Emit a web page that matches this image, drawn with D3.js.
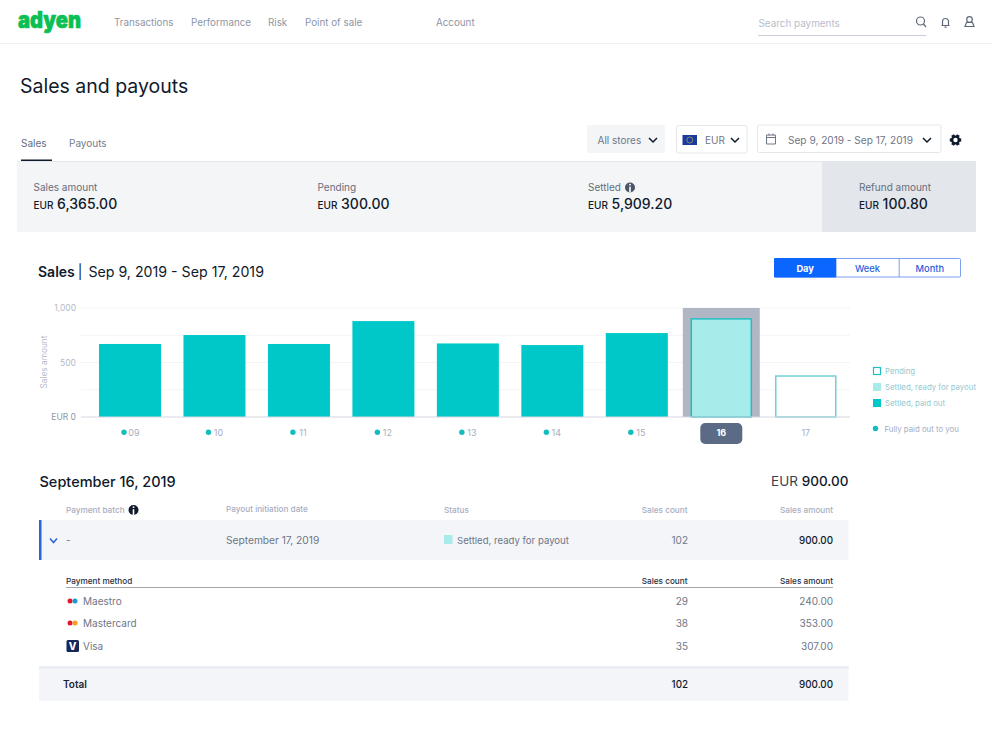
<!DOCTYPE html>
<html>
<head>
<meta charset="utf-8">
<script src="https://cdn.jsdelivr.net/npm/d3@7"></script>
<style>
    html, body { margin: 0; background: #fff; }
    svg { display: block; }
    text { font-family: Inter, "Noto Sans", sans-serif; }
</style>
</head>
<body>
<svg id="page" width="992" height="741"></svg>
<script>
// Chart data
const days = ["09", "10", "11", "12", "13", "14", "15", "16", "17"]
const salesAmounts = [670, 752, 670, 880, 675, 660, 770, 900, 376]
const statuses = ["paid", "paid", "paid", "paid", "paid", "paid", "paid", "ready", "pending"]
const fullyPaid = [true, true, true, true, true, true, true, false, false]
const selectedDay = "16"
const yLabelTicks = [0, 500, 1000]
const yGridTicks = [250, 500, 750, 1000]
const legendLabels = ["Pending", "Settled, ready for payout", "Settled, paid out"]
const legendStatuses = ["pending", "ready", "paid"]

// Page text
const navItems = ["Transactions", "Performance", "Risk", "Point of sale", "Account"]
const navX = [114, 191, 268, 305, 436]
const summaryLabels = ["Sales amount", "Pending", "Settled", "Refund amount"]
const summaryValues = ["6,365.00", "300.00", "5,909.20", "100.80"]
const summaryX = [33.5, 317.5, 588, 859]
const rangeLabels = ["Day", "Week", "Month"]
const methodNames = ["Maestro", "Mastercard", "Visa"]
const methodCounts = ["29", "38", "35"]
const methodAmounts = ["240.00", "353.00", "307.00"]
const methodY = [601, 623, 646]

const teal = "#00c8c8"
const tealLight = "#a8ebeb"
const tealBorder = "#22bfc2"
const blue = "#0a66ff"
const grey = "#6f7685"
const greyLight = "#a7aebf"
const ink = "#0f1a2b"

const svg = d3.select("#page")

function label (x, y, str, size, fill, opts = {}) {
    return svg.append("text")
        .attr("x", x)
        .attr("y", y)
        .attr("font-size", size)
        .attr("fill", fill)
        .attr("font-weight", opts.weight || 400)
        .attr("text-anchor", opts.anchor || "start")
        .text(str)
}

function box (x, y, w, h, fill, opts = {}) {
    return svg.append("rect")
        .attr("x", x)
        .attr("y", y)
        .attr("width", w)
        .attr("height", h)
        .attr("fill", fill)
        .attr("stroke", opts.stroke || "none")
        .attr("rx", opts.rx || 0)
}

function chevron (x, y, color = ink, w = 4) {
    svg.append("path")
        .attr("d", d3.line()([[x - w, y - 2], [x, y + 2], [x + w, y - 2]]))
        .attr("fill", "none")
        .attr("stroke", color)
        .attr("stroke-width", 1.5)
}

function infoIcon (x, y, r, fill) {
    svg.append("circle").attr("cx", x).attr("cy", y).attr("r", r).attr("fill", fill)
    box(x - 0.8, y - 0.8, 1.6, r + 0.8, "#fff")
    box(x - 0.8, y - r + 1.4, 1.6, 1.6, "#fff")
}

// Header
box(0, 43, 992, 1, "#f0f1f3")
label(18, 28, "adyen", 23, "#0abf53", {weight: 900})
    .attr("textLength", 63)
    .attr("lengthAdjust", "spacingAndGlyphs")
    .attr("stroke", "#0abf53")
    .attr("stroke-width", 0.7)
navItems.forEach((d, i) => label(navX[i], 26, d, 9.8, "#8e96a5"))
label(758.5, 27, "Search payments", 9.9, "#b7bdca")
box(758, 35, 168, 1, "#c9ced8")

const iconStroke = "#5f6878"
svg.append("circle").attr("cx", 920.5).attr("cy", 21).attr("r", 4).attr("fill", "none").attr("stroke", iconStroke).attr("stroke-width", 1.2)
svg.append("path").attr("d", "M923.5 24L926 27").attr("stroke", iconStroke).attr("stroke-width", 1.2)
svg.append("path").attr("d", "M941.5 25.5h8M942.5 25.5v-4a3 3 0 0 1 6 0v4M944.5 27.2h2").attr("fill", "none").attr("stroke", iconStroke).attr("stroke-width", 1.2)
svg.append("circle").attr("cx", 969.5).attr("cy", 19.5).attr("r", 2.8).attr("fill", "none").attr("stroke", iconStroke).attr("stroke-width", 1.2)
svg.append("path").attr("d", "M965 26.5l1.5-4h6l1.5 4z").attr("fill", "none").attr("stroke", iconStroke).attr("stroke-width", 1.2)

// Title and tabs
label(20, 93, "Sales and payouts", 19.5, ink)
label(21, 147, "Sales", 10, "#666e7c")
label(69, 147, "Payouts", 10, "#757d8c")
box(21, 159.5, 31, 1.5, ink)

// Filters
box(587, 125, 78, 28, "#f3f5f7", {rx: 2})
label(597.5, 143.5, "All stores", 10, "#6f7685")
chevron(653, 140)
box(676.5, 125.5, 70.5, 27.5, "#fff", {stroke: "#e3e6ea", rx: 2})
box(682.5, 135, 14.5, 10, "#1a3a9c")
svg.append("circle").attr("cx", 689.8).attr("cy", 140).attr("r", 3).attr("fill", "none").attr("stroke", "#c7bd5a").attr("stroke-width", 0.6)
label(705, 143.5, "EUR", 10, "#6f7685")
chevron(735, 140)
box(757.5, 125, 183.5, 27.5, "#fff", {stroke: "#e3e6ea", rx: 2})
svg.append("path").attr("d", "M766.5 135h9v9h-9zM766.5 137.5h9M769 133.5v2M773 133.5v2").attr("fill", "none").attr("stroke", "#6f7685").attr("stroke-width", 1)
label(788, 144, "Sep 9, 2019 - Sep 17, 2019", 10.1, "#6f7685")
chevron(927, 140)

// settings gear
svg.append("circle").attr("cx", 955.5).attr("cy", 140).attr("r", 3.4).attr("fill", "none").attr("stroke", ink).attr("stroke-width", 2.4)
d3.range(6).forEach(i => {
    const a = i * Math.PI / 3 + Math.PI / 6
    svg.append("rect")
        .attr("x", 953.9)
        .attr("y", 134.3)
        .attr("width", 3.2)
        .attr("height", 2.4)
        .attr("fill", ink)
        .attr("transform", `rotate(${a * 180 / Math.PI} 955.5 140)`)
})

// Summary band
box(17, 161, 959, 1.5, "#e3e6ea")
box(17, 162, 959, 70, "#f3f5f7")
box(822, 162, 154, 70, "#e3e6ea")
summaryLabels.forEach((d, i) => {
    label(summaryX[i], 191, d, 10, "#666e7c")
    const t = label(summaryX[i], 209, "EUR ", 10, ink, {weight: 500})
    t.append("tspan").attr("font-size", 14).attr("dx", 1).text(summaryValues[i])
})
infoIcon(630, 187.5, 5, "#4d5668")

// Chart heading
const heading = label(38, 277, "Sales", 14, ink, {weight: 600})
heading.append("tspan").attr("font-weight", 400).attr("dx", 3).text("| ")
heading.append("tspan").attr("font-weight", 400).attr("font-size", 14.2).attr("dx", 2).text("Sep 9, 2019 - Sep 17, 2019")

// Day / Week / Month toggle
const toggleX = d3.scaleBand().domain(rangeLabels).range([774, 961])
box(774.5, 258.5, 186, 18.5, "#fff", {stroke: "#7d9ff0", rx: 1})
box(774, 258, toggleX.bandwidth(), 19.5, blue, {rx: 1})
box(toggleX("Month"), 258.5, 1, 18.5, "#7d9ff0")
rangeLabels.forEach((d, i) => {
    label(toggleX(d) + toggleX.bandwidth() / 2, 271.5, d, 9.3, i === 0 ? "#fff" : "#2a62dc", {anchor: "middle", weight: i === 0 ? 700 : 500})
})

// Bar chart
const x = d3.scaleBand()
    .domain(days)
    .range([87.75, 848])
    .paddingInner(0.266)
    .paddingOuter(0.133)
const y = d3.scaleLinear().domain([0, 1000]).range([417, 308])

const barFill = {paid: teal, ready: tealLight, pending: "#fff"}
const barStroke = {paid: "none", ready: tealBorder, pending: "#72cfd2"}

const chart = svg.append("g")

chart.append("g")
    .selectAll("line")
    .data(yGridTicks)
    .join("line")
    .attr("x1", 81)
    .attr("x2", 850)
    .attr("y1", d => y(d))
    .attr("y2", d => y(d))
    .attr("stroke", "#f3f4f7")

// grey column behind the selected day
chart.append("rect")
    .attr("x", x(selectedDay) - (77 - x.bandwidth()) / 2)
    .attr("width", 77)
    .attr("y", y(1000))
    .attr("height", y(0) - y(1000))
    .attr("fill", "#b0b6c4")

chart.append("g")
    .selectAll("rect")
    .data(days)
    .join("rect")
    .attr("x", d => x(d) + (statuses[days.indexOf(d)] === "paid" ? 0 : 1))
    .attr("width", d => x.bandwidth() - (statuses[days.indexOf(d)] === "paid" ? 0 : 2))
    .attr("y", (d, i) => y(salesAmounts[i]))
    .attr("height", (d, i) => y(0) - y(salesAmounts[i]))
    .attr("fill", (d, i) => barFill[statuses[i]])
    .attr("stroke", (d, i) => barStroke[statuses[i]])
    .attr("stroke-width", 1.5)

chart.append("line")
    .attr("x1", 81)
    .attr("x2", 850)
    .attr("y1", y(0))
    .attr("y2", y(0))
    .attr("stroke", "#d3d7e0")

const yAxis = chart.append("g")
    .attr("transform", "translate(81,0)")
    .call(d3.axisLeft(y).tickValues(yLabelTicks).tickSize(0).tickPadding(5)
        .tickFormat(d => d === 0 ? "EUR 0" : d3.format(",")(d)))
yAxis.select(".domain").remove()
yAxis.selectAll("text")
    .attr("font-size", 8.5)
    .attr("font-family", "Inter, sans-serif")
    .attr("fill", d => d === 0 ? "#8e96a5" : "#b4bac8")

label(0, 0, "Sales amount", 8.3, "#b4bac8", {anchor: "middle"})
    .attr("transform", "translate(47,362) rotate(-90)")

// x labels with the paid-out dots
chart.append("rect")
    .attr("x", x(selectedDay) + x.bandwidth() / 2 - 21)
    .attr("y", 423)
    .attr("width", 42)
    .attr("height", 21)
    .attr("rx", 5)
    .attr("fill", "#5c6b85")
chart.append("g")
    .selectAll("text")
    .data(days)
    .join("text")
    .attr("x", d => x(d) + x.bandwidth() / 2 + (fullyPaid[days.indexOf(d)] ? 4 : 0))
    .attr("y", 436)
    .attr("text-anchor", "middle")
    .attr("font-size", 9)
    .attr("font-weight", d => d === selectedDay ? 700 : 400)
    .attr("fill", d => d === selectedDay ? "#fff" : "#a7aebf")
    .text(d => d)
chart.append("g")
    .selectAll("circle")
    .data(days.filter((d, i) => fullyPaid[i]))
    .join("circle")
    .attr("cx", d => x(d) + x.bandwidth() / 2 - 6)
    .attr("cy", 432.3)
    .attr("r", 2.7)
    .attr("fill", "#12bcc0")

// Legend
legendLabels.forEach((d, i) => {
    const ly = 371 + i * 16
    const s = legendStatuses[i]
    svg.append("rect")
        .attr("x", s === "pending" ? 873.5 : 873)
        .attr("y", ly - (s === "pending" ? 3.5 : 4))
        .attr("width", s === "pending" ? 7 : 8)
        .attr("height", s === "pending" ? 7 : 8)
        .attr("fill", barFill[s])
        .attr("stroke", s === "pending" ? tealBorder : "none")
        .attr("stroke-width", 1.2)
    label(885, ly + 3, d, 7.8, "#93c9cf")
})
svg.append("circle").attr("cx", 875.5).attr("cy", 428.5).attr("r", 2.7).attr("fill", "#12bcc0")
label(884.5, 431.5, "Fully paid out to you", 7.8, "#a7aebf")

// Detail heading
label(39.5, 487, "September 16, 2019", 14.5, ink, {weight: 500})
const detailTotal = label(848.5, 486, "EUR ", 13.5, "#39414f", {anchor: "end"})
detailTotal.append("tspan").attr("fill", ink).attr("font-weight", 500).text("900.00")

// Batch table
const headSize = 8.2
label(66, 513, "Payment batch", headSize, greyLight, {weight: 500})
infoIcon(133.5, 510, 5, ink)
label(226, 512, "Payout initiation date", headSize, greyLight, {weight: 500})
label(444, 513, "Status", headSize, greyLight, {weight: 500})
label(687.5, 513, "Sales count", headSize, greyLight, {anchor: "end", weight: 500})
label(833, 513, "Sales amount", headSize, greyLight, {anchor: "end", weight: 500})

box(39, 520, 809.5, 40, "#f3f5f8")
box(39, 520, 2.5, 40, "#2a62dc")
chevron(53.5, 540.5, "#2a62dc", 3.5)
label(66, 544, "-", 10, grey)
label(226, 544, "September 17, 2019", 10.2, grey)
box(444, 535, 8.5, 9, tealLight)
label(457, 544, "Settled, ready for payout", 9.6, grey)
label(688, 544, "102", 10, grey, {anchor: "end"})
label(833, 544, "900.00", 9.8, ink, {anchor: "end", weight: 500})

// Payment methods
label(66, 584, "Payment method", headSize, "#26303f", {weight: 500})
label(687.5, 584, "Sales count", headSize, "#26303f", {anchor: "end", weight: 500})
label(833, 584, "Sales amount", headSize, "#26303f", {anchor: "end", weight: 500})
box(66, 587, 767, 1, "#a3a6ad")

methodNames.forEach((d, i) => {
    label(83, methodY[i] + 4, d, 10, grey)
    label(688, methodY[i] + 4, methodCounts[i], 10, grey, {anchor: "end"})
    label(833, methodY[i] + 4, methodAmounts[i], 10, grey, {anchor: "end"})
})

function cardDots (cy, second) {
    svg.append("circle").attr("cx", 70).attr("cy", cy).attr("r", 2.5).attr("fill", "#e3182d")
    svg.append("circle").attr("cx", 75).attr("cy", cy).attr("r", 2.5).attr("fill", second)
}
cardDots(methodY[0], "#1b9ad6")
cardDots(methodY[1], "#f79e1b")
box(66.5, 640, 12.5, 12, "#14265c", {rx: 1.5})
label(72.7, 650, "V", 10, "#fff", {anchor: "middle", weight: 800})

// Total row
box(39, 666, 809.5, 35, "#f3f5f8")
box(39, 666, 809.5, 3, "#ebeef2")
label(63, 688, "Total", 10, "#1c2533", {weight: 600})
label(688, 688, "102", 9.8, ink, {anchor: "end", weight: 500})
label(833, 688, "900.00", 9.8, ink, {anchor: "end", weight: 500})
</script>
</body>
</html>
